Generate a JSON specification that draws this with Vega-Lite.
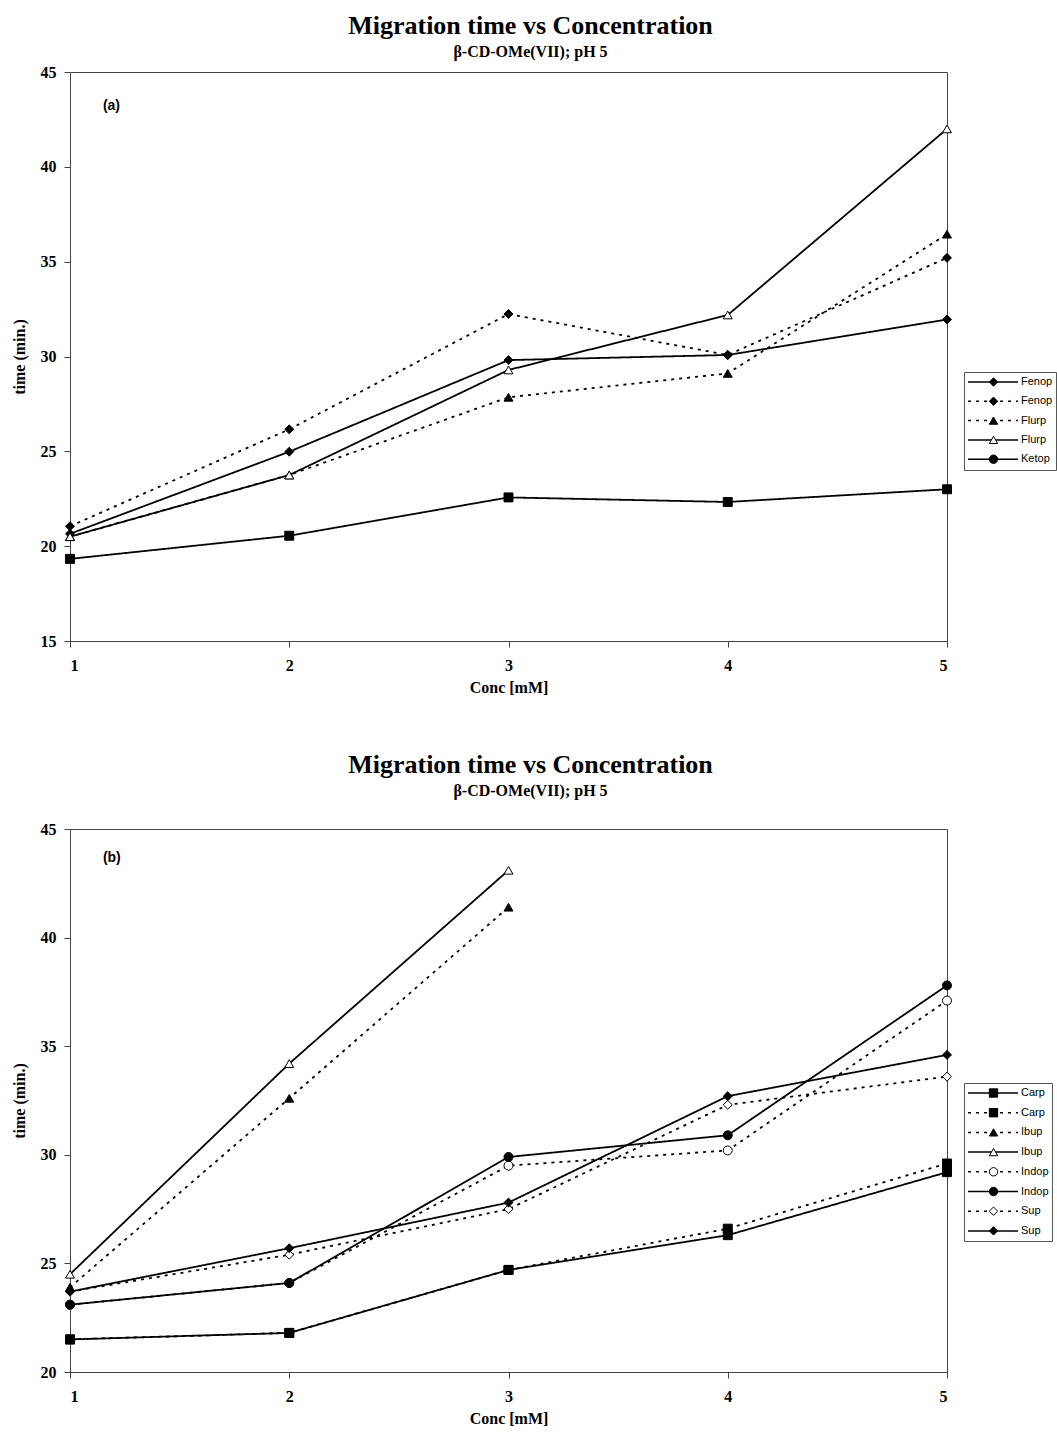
{
  "$schema": "https://vega.github.io/schema/vega-lite/v6.json",
  "padding": {"left": 10, "top": 12, "right": 0, "bottom": 0},
  "background": "white",
  "spacing": 55,
  "config": {
    "view": {"stroke": "#444", "strokeWidth": 1},
    "axis": {
      "labelFont": "Liberation Serif", "labelFontWeight": "bold", "labelFontSize": 16, "labelColor": "black",
      "titleFont": "Liberation Serif", "titleFontWeight": "bold", "titleFontSize": 16, "titleColor": "black",
      "grid": false, "domainColor": "#444", "tickColor": "#444", "tickSize": 6
    },
    "axisX": {"labelPadding": 10, "titlePadding": 6},
    "axisY": {"labelPadding": 8, "titlePadding": 13},
    "title": {
      "font": "Liberation Serif", "fontSize": 26, "fontWeight": "bold", "color": "black",
      "subtitleFont": "Liberation Serif", "subtitleFontSize": 16, "subtitleFontWeight": "bold", "subtitleColor": "black",
      "subtitlePadding": 5, "anchor": "middle", "dx": 22
    },
    "legend": {"labelFont": "Liberation Sans", "labelFontSize": 11, "labelColor": "black", "title": null}
  },
  "resolve": {
    "scale": {"x": "independent", "y": "independent", "shape": "independent", "strokeDash": "independent", "fill": "independent", "stroke": "independent"},
    "legend": {"shape": "independent", "strokeDash": "independent", "fill": "independent", "stroke": "independent"}
  },
  "vconcat": [
    {
      "title": {"text": "Migration time vs Concentration", "subtitle": "β-CD-OMe(VII); pH 5", "offset": 4},
      "width": 877,
      "height": 569,
      "data": {"values": [
        {"series": "1|Fenop", "conc": 1, "time": 20.65},
        {"series": "1|Fenop", "conc": 2, "time": 24.98},
        {"series": "1|Fenop", "conc": 3, "time": 29.81},
        {"series": "1|Fenop", "conc": 4, "time": 30.08},
        {"series": "1|Fenop", "conc": 5, "time": 31.95},
        {"series": "2|Fenop", "conc": 1, "time": 21.05},
        {"series": "2|Fenop", "conc": 2, "time": 26.16},
        {"series": "2|Fenop", "conc": 3, "time": 32.24},
        {"series": "2|Fenop", "conc": 4, "time": 30.08},
        {"series": "2|Fenop", "conc": 5, "time": 35.2},
        {"series": "3|Flurp", "conc": 1, "time": 20.5},
        {"series": "3|Flurp", "conc": 2, "time": 23.75},
        {"series": "3|Flurp", "conc": 3, "time": 27.85},
        {"series": "3|Flurp", "conc": 4, "time": 29.11},
        {"series": "3|Flurp", "conc": 5, "time": 36.45},
        {"series": "4|Flurp", "conc": 1, "time": 20.5},
        {"series": "4|Flurp", "conc": 2, "time": 23.75},
        {"series": "4|Flurp", "conc": 3, "time": 29.29},
        {"series": "4|Flurp", "conc": 4, "time": 32.19},
        {"series": "4|Flurp", "conc": 5, "time": 42.0},
        {"series": "6|Ketop", "conc": 1, "time": 19.33},
        {"series": "6|Ketop", "conc": 2, "time": 20.55},
        {"series": "6|Ketop", "conc": 3, "time": 22.57},
        {"series": "6|Ketop", "conc": 4, "time": 22.33},
        {"series": "6|Ketop", "conc": 5, "time": 23.0}
      ]},
      "layer": [
        {
          "mark": {"type": "line", "color": "black", "strokeWidth": 1.8},
          "encoding": {
            "x": {"field": "conc", "type": "quantitative", "scale": {"domain": [1, 5], "nice": false, "zero": false}, "axis": {"values": [1, 2, 3, 4, 5], "format": "d", "title": "Conc [mM]"}},
            "y": {"field": "time", "type": "quantitative", "scale": {"domain": [15, 45], "nice": false, "zero": false}, "axis": {"values": [15, 20, 25, 30, 35, 40, 45], "title": "time (min.)"}},
            "strokeDash": {
              "field": "series", "type": "nominal",
              "scale": {"domain": ["6|Ketop", "5|Ketop", "4|Flurp", "3|Flurp", "2|Fenop", "1|Fenop"], "range": [[1, 0], [1, 0], [1, 0], [3, 5], [3, 5], [1, 0]]},
              "legend": {
                "orient": "none", "legendX": 894, "legendY": 300, "title": null,
                "values": ["1|Fenop", "2|Fenop", "3|Flurp", "4|Flurp", "5|Ketop"],
                "symbolType": "stroke", "symbolSize": 2500, "symbolStrokeWidth": 1.5, "symbolStrokeColor": "black",
                "clipHeight": 14, "rowPadding": 5.3, "padding": 3, "strokeColor": "#555", "labelOffset": 2,
                "labelExpr": "split(datum.label, '|')[1]", "zindex": 0
              }
            }
          }
        },
        {
          "mark": {"type": "point", "filled": true, "strokeWidth": 1, "opacity": 1, "size": 80},
          "encoding": {
            "x": {"field": "conc", "type": "quantitative"},
            "y": {"field": "time", "type": "quantitative"},
            "shape": {
              "field": "series", "type": "nominal",
              "scale": {"domain": ["1|Fenop", "2|Fenop", "3|Flurp", "4|Flurp", "5|Ketop", "6|Ketop"], "range": ["diamond", "diamond", "triangle-up", "triangle-up", "circle", "square"]},
              "legend": {
                "orient": "none", "legendX": 918, "legendY": 303, "title": null,
                "values": ["1|Fenop", "2|Fenop", "3|Flurp", "4|Flurp", "5|Ketop"],
                "symbolSize": 70, "symbolStrokeWidth": 1,
                "clipHeight": 14, "rowPadding": 5.3, "padding": 0, "labelExpr": "''", "zindex": 1
              }
            },
            "fill": {
              "field": "series", "type": "nominal",
              "scale": {"domain": ["1|Fenop", "2|Fenop", "3|Flurp", "4|Flurp", "5|Ketop", "6|Ketop"], "range": ["black", "black", "black", "white", "black", "black"]},
              "legend": {
                "orient": "none", "legendX": 918, "legendY": 303, "title": null,
                "values": ["1|Fenop", "2|Fenop", "3|Flurp", "4|Flurp", "5|Ketop"],
                "symbolSize": 70, "symbolStrokeWidth": 1,
                "clipHeight": 14, "rowPadding": 5.3, "padding": 0, "labelExpr": "''", "zindex": 1
              }
            },
            "stroke": {
              "field": "series", "type": "nominal",
              "scale": {"domain": ["1|Fenop", "2|Fenop", "3|Flurp", "4|Flurp", "5|Ketop", "6|Ketop"], "range": ["black", "black", "black", "black", "black", "black"]},
              "legend": {
                "orient": "none", "legendX": 918, "legendY": 303, "title": null,
                "values": ["1|Fenop", "2|Fenop", "3|Flurp", "4|Flurp", "5|Ketop"],
                "symbolSize": 70, "symbolStrokeWidth": 1,
                "clipHeight": 14, "rowPadding": 5.3, "padding": 0, "labelExpr": "''", "zindex": 1
              }
            }
          }
        },
        {
          "data": {"values": [{"tag": "(a)"}]},
          "mark": {"type": "text", "font": "Liberation Sans", "fontWeight": "bold", "fontSize": 14, "align": "left", "baseline": "middle", "color": "black"},
          "encoding": {
            "x": {"datum": 1.15},
            "y": {"datum": 43.2},
            "text": {"field": "tag"}
          }
        }
      ]
    },
    {
      "title": {"text": "Migration time vs Concentration", "subtitle": "β-CD-OMe(VII); pH 5", "offset": 22},
      "width": 877,
      "height": 543,
      "data": {"values": [
        {"series": "1|Carp", "conc": 1, "time": 21.5},
        {"series": "1|Carp", "conc": 2, "time": 21.8},
        {"series": "1|Carp", "conc": 3, "time": 24.7},
        {"series": "1|Carp", "conc": 4, "time": 26.3},
        {"series": "1|Carp", "conc": 5, "time": 29.2},
        {"series": "2|Carp", "conc": 1, "time": 21.5},
        {"series": "2|Carp", "conc": 2, "time": 21.8},
        {"series": "2|Carp", "conc": 3, "time": 24.7},
        {"series": "2|Carp", "conc": 4, "time": 26.6},
        {"series": "2|Carp", "conc": 5, "time": 29.6},
        {"series": "3|Ibup", "conc": 1, "time": 23.9},
        {"series": "3|Ibup", "conc": 2, "time": 32.6},
        {"series": "3|Ibup", "conc": 3, "time": 41.4},
        {"series": "4|Ibup", "conc": 1, "time": 24.5},
        {"series": "4|Ibup", "conc": 2, "time": 34.2},
        {"series": "4|Ibup", "conc": 3, "time": 43.1},
        {"series": "5|Indop", "conc": 1, "time": 23.1},
        {"series": "5|Indop", "conc": 2, "time": 24.1},
        {"series": "5|Indop", "conc": 3, "time": 29.5},
        {"series": "5|Indop", "conc": 4, "time": 30.2},
        {"series": "5|Indop", "conc": 5, "time": 37.1},
        {"series": "6|Indop", "conc": 1, "time": 23.1},
        {"series": "6|Indop", "conc": 2, "time": 24.1},
        {"series": "6|Indop", "conc": 3, "time": 29.9},
        {"series": "6|Indop", "conc": 4, "time": 30.9},
        {"series": "6|Indop", "conc": 5, "time": 37.8},
        {"series": "7|Sup", "conc": 1, "time": 23.7},
        {"series": "7|Sup", "conc": 2, "time": 25.4},
        {"series": "7|Sup", "conc": 3, "time": 27.5},
        {"series": "7|Sup", "conc": 4, "time": 32.3},
        {"series": "7|Sup", "conc": 5, "time": 33.6},
        {"series": "8|Sup", "conc": 1, "time": 23.7},
        {"series": "8|Sup", "conc": 2, "time": 25.7},
        {"series": "8|Sup", "conc": 3, "time": 27.8},
        {"series": "8|Sup", "conc": 4, "time": 32.7},
        {"series": "8|Sup", "conc": 5, "time": 34.6}
      ]},
      "layer": [
        {
          "mark": {"type": "line", "color": "black", "strokeWidth": 1.8},
          "encoding": {
            "x": {"field": "conc", "type": "quantitative", "scale": {"domain": [1, 5], "nice": false, "zero": false}, "axis": {"values": [1, 2, 3, 4, 5], "format": "d", "title": "Conc [mM]"}},
            "y": {"field": "time", "type": "quantitative", "scale": {"domain": [20, 45], "nice": false, "zero": false}, "axis": {"values": [20, 25, 30, 35, 40, 45], "title": "time (min.)"}},
            "strokeDash": {
              "field": "series", "type": "nominal",
              "scale": {"domain": ["8|Sup", "7|Sup", "6|Indop", "5|Indop", "4|Ibup", "3|Ibup", "2|Carp", "1|Carp"], "range": [[1, 0], [3, 5], [1, 0], [3, 5], [1, 0], [3, 5], [3, 5], [1, 0]]},
              "legend": {
                "orient": "none", "legendX": 894, "legendY": 254, "title": null,
                "values": ["1|Carp", "2|Carp", "3|Ibup", "4|Ibup", "5|Indop", "6|Indop", "7|Sup", "8|Sup"],
                "symbolType": "stroke", "symbolSize": 2500, "symbolStrokeWidth": 1.5, "symbolStrokeColor": "black",
                "clipHeight": 14, "rowPadding": 5.7, "padding": 3, "strokeColor": "#555", "labelOffset": 2,
                "labelExpr": "split(datum.label, '|')[1]", "zindex": 0
              }
            }
          }
        },
        {
          "mark": {"type": "point", "filled": true, "strokeWidth": 1, "opacity": 1, "size": 80},
          "encoding": {
            "x": {"field": "conc", "type": "quantitative"},
            "y": {"field": "time", "type": "quantitative"},
            "shape": {
              "field": "series", "type": "nominal",
              "scale": {"domain": ["1|Carp", "2|Carp", "3|Ibup", "4|Ibup", "5|Indop", "6|Indop", "7|Sup", "8|Sup"], "range": ["square", "square", "triangle-up", "triangle-up", "circle", "circle", "diamond", "diamond"]},
              "legend": {
                "orient": "none", "legendX": 918, "legendY": 257, "title": null,
                "values": ["1|Carp", "2|Carp", "3|Ibup", "4|Ibup", "5|Indop", "6|Indop", "7|Sup", "8|Sup"],
                "symbolSize": 70, "symbolStrokeWidth": 1,
                "clipHeight": 14, "rowPadding": 5.7, "padding": 0, "labelExpr": "''", "zindex": 1
              }
            },
            "fill": {
              "field": "series", "type": "nominal",
              "scale": {"domain": ["1|Carp", "2|Carp", "3|Ibup", "4|Ibup", "5|Indop", "6|Indop", "7|Sup", "8|Sup"], "range": ["black", "black", "black", "white", "white", "black", "white", "black"]},
              "legend": {
                "orient": "none", "legendX": 918, "legendY": 257, "title": null,
                "values": ["1|Carp", "2|Carp", "3|Ibup", "4|Ibup", "5|Indop", "6|Indop", "7|Sup", "8|Sup"],
                "symbolSize": 70, "symbolStrokeWidth": 1,
                "clipHeight": 14, "rowPadding": 5.7, "padding": 0, "labelExpr": "''", "zindex": 1
              }
            },
            "stroke": {
              "field": "series", "type": "nominal",
              "scale": {"domain": ["1|Carp", "2|Carp", "3|Ibup", "4|Ibup", "5|Indop", "6|Indop", "7|Sup", "8|Sup"], "range": ["black", "black", "black", "black", "black", "black", "black", "black"]},
              "legend": {
                "orient": "none", "legendX": 918, "legendY": 257, "title": null,
                "values": ["1|Carp", "2|Carp", "3|Ibup", "4|Ibup", "5|Indop", "6|Indop", "7|Sup", "8|Sup"],
                "symbolSize": 70, "symbolStrokeWidth": 1,
                "clipHeight": 14, "rowPadding": 5.7, "padding": 0, "labelExpr": "''", "zindex": 1
              }
            }
          }
        },
        {
          "data": {"values": [{"tag": "(b)"}]},
          "mark": {"type": "text", "font": "Liberation Sans", "fontWeight": "bold", "fontSize": 14, "align": "left", "baseline": "middle", "color": "black"},
          "encoding": {
            "x": {"datum": 1.15},
            "y": {"datum": 43.65},
            "text": {"field": "tag"}
          }
        }
      ]
    }
  ]
}
